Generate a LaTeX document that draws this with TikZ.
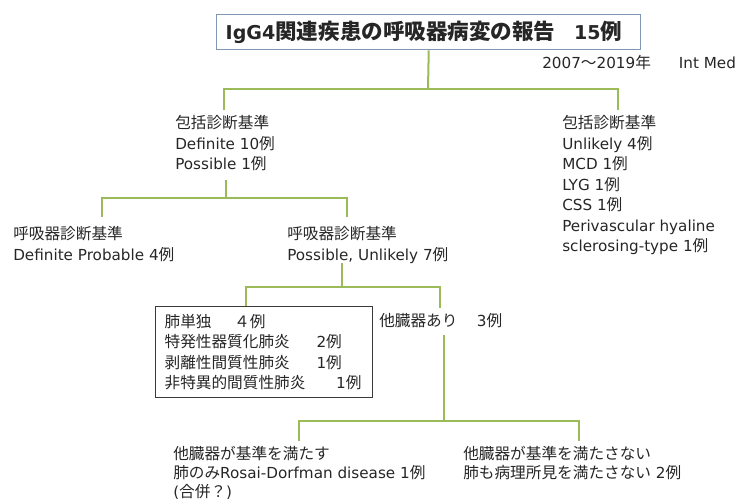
\documentclass[tikz,border=0pt]{standalone}
\usepackage{fontspec}
\setmainfont{DejaVu Sans}
\newfontfamily\jp[Scale=1.03]{Noto Sans CJK JP}
\newfontfamily\jpt[Scale=1.13]{Noto Sans CJK JP}
\newcommand\J[1]{{\jp #1}}
\newcommand\JT[1]{{\jpt #1}}
\definecolor{conncol}{HTML}{9BBB59}
\definecolor{titleedge}{HTML}{8096B4}
\definecolor{boxedge}{HTML}{3A3A3A}
\definecolor{txt}{HTML}{262626}
\tikzset{
  conn/.style={draw=conncol, line width=1.5pt},
  lbl/.style={anchor=north west, inner sep=0pt, align=left, text=txt,
    font=\fontsize{11.4pt}{15.4pt}\selectfont},
}
\begin{document}
\begin{tikzpicture}[x=0.75pt, y=-0.75pt]
\useasboundingbox (0,0) rectangle (748,501);
% title
\node[draw=titleedge, line width=1.1pt, anchor=north west, minimum width=318pt,
  minimum height=26.25pt, inner xsep=6.75pt, inner ysep=0pt, text width=304.5pt,
  align=left, text=black!85, font=\bfseries\fontsize{14.3pt}{18pt}\selectfont]
  (title) at (216,14) {IgG4\JT{関連疾患の呼吸器病変の報告}\hspace{14pt}15\JT{例}};
\node[lbl, anchor=west] (date) at (542,63) {2007\J{〜}2019\J{年}\hspace{21pt}Int Med};
% level 1
\node[lbl] (A) at (175,115) {\J{包括診断基準}\\Definite 10\J{例}\\Possible 1\J{例}};
\node[lbl] (R) at (562,115) {\J{包括診断基準}\\Unlikely 4\J{例}\\MCD 1\J{例}\\LYG 1\J{例}\\CSS 1\J{例}\\Perivascular hyaline\\sclerosing-type 1\J{例}};
% level 2
\node[lbl] (B) at (13,226) {\J{呼吸器診断基準}\\Definite Probable 4\J{例}};
\node[lbl] (C) at (287,226) {\J{呼吸器診断基準}\\Possible, Unlikely 7\J{例}};
% level 3
\node[draw=boxedge, line width=0.9pt, anchor=north west, minimum width=162.75pt,
  minimum height=68.25pt, inner xsep=6.75pt, inner ysep=0pt, text width=149.25pt,
  align=left, text=txt, font=\fontsize{11.4pt}{15.2pt}\selectfont]
  (D) at (155,306) {\J{肺単独}\hspace{17pt}\J{４例}\\\J{特発性器質化肺炎}\hspace{20pt}2\J{例}\\\J{剥離性間質性肺炎}\hspace{20pt}1\J{例}\\\J{非特異的間質性肺炎}\hspace{23pt}1\J{例}};
\node[lbl] (E) at (379,313) {\J{他臓器あり}\hspace{14.5pt}3\J{例}};
% level 4
\node[lbl, font=\fontsize{11.4pt}{14.3pt}\selectfont] (F) at (173,446) {\J{他臓器が基準を満たす}\\\J{肺のみ}Rosai-Dorfman disease 1\J{例}\\(\J{合併？})};
\node[lbl, font=\fontsize{11.4pt}{14.3pt}\selectfont] (G) at (463,446) {\J{他臓器が基準を満たさない}\\\J{肺も病理所見を満たさない} 2\J{例}};
% connectors
\coordinate (j1) at (428,89);
\coordinate (tA) at (224,110);
\coordinate (tR) at (618,110);
\draw[conn] (title.south) -- (j1);
\draw[conn] (tA) |- (j1) -| (tR);
\coordinate (a1) at (226,180);
\coordinate (j2) at (226,198);
\coordinate (tB) at (102,217);
\coordinate (tC) at (347,217);
\draw[conn] (a1) -- (j2);
\draw[conn] (tB) |- (j2) -| (tC);
\coordinate (c1) at (342,263);
\coordinate (j3) at (342,287);
\coordinate (tE) at (440,308);
\draw[conn] (c1) -- (j3);
\draw[conn] (D.north -| 246,0) |- (j3) -| (tE);
\coordinate (e1) at (444,335);
\coordinate (j4) at (444,421);
\coordinate (tF) at (299,441);
\coordinate (tG) at (579,441);
\draw[conn] (e1) -- (j4);
\draw[conn] (tF) |- (j4) -| (tG);
\end{tikzpicture}
\end{document}
